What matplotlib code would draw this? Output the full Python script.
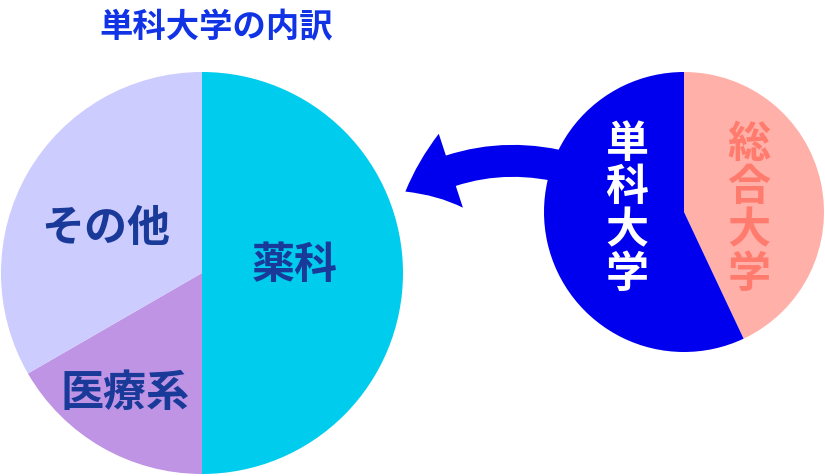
import matplotlib
matplotlib.use("Agg")
import matplotlib.pyplot as plt
from matplotlib.patches import FancyArrowPatch

plt.rcParams['font.family'] = ['Noto Sans CJK JP', 'DejaVu Sans']

# data
title = "単科大学の内訳"
left_labels = ["薬科", "医療系", "その他"]
left_values = [3, 1, 2]
left_colors = ["#00CCEE", "#BF94E4", "#CCCCFF"]

right_labels = ["総合大学", "単科大学"]
right_values = [43, 57]
right_colors = ["#FFB0A8", "#0000EE"]

W, H = 825, 476
fig = plt.figure(figsize=(W / 100, H / 100), dpi=100)
ax = fig.add_axes([0, 0, 1, 1])

# left pie (breakdown)
ax.pie(left_values, colors=left_colors, startangle=90, counterclock=False,
       center=(202, H - 273), radius=201, frame=True,
       wedgeprops=dict(linewidth=0))
left_pos = [(295, H - 265), (106, H - 393), (106, H - 228)]
left_pos[1] = (125, H - 393)
for lab, (x, y) in zip(left_labels, left_pos):
    ax.text(x, y, lab, ha='center', va='center', fontsize=31,
            fontweight='bold', color='#1A3A99')

# right pie
ax.pie(right_values, colors=right_colors, startangle=90, counterclock=False,
       center=(684, H - 212), radius=140, frame=True,
       wedgeprops=dict(linewidth=0, zorder=3))
ax.text(749, H - 209, "\n".join(right_labels[0]), ha='center', va='center',
        fontsize=31, fontweight='bold', color='#FF7B6E', linespacing=0.98,
        zorder=4)
ax.text(627, H - 209, "\n".join(right_labels[1]), ha='center', va='center',
        fontsize=31, fontweight='bold', color='white', linespacing=0.98,
        zorder=4)

# curved arrow
arrow = FancyArrowPatch((575, H - 170), (403, H - 193),
                        connectionstyle="arc3,rad=0.22",
                        arrowstyle="simple,head_width=56,head_length=36,tail_width=23",
                        color='#0000EE', linewidth=0, zorder=2)
ax.add_patch(arrow)

ax.set_xlim(0, W)
ax.set_ylim(0, H)
ax.set_aspect('auto')
ax.axis('off')

ax.text(216, H - 27, title, ha='center', va='center', fontsize=24,
        fontweight='bold', color='#1133E6')

fig.savefig("out.png", dpi=100)
